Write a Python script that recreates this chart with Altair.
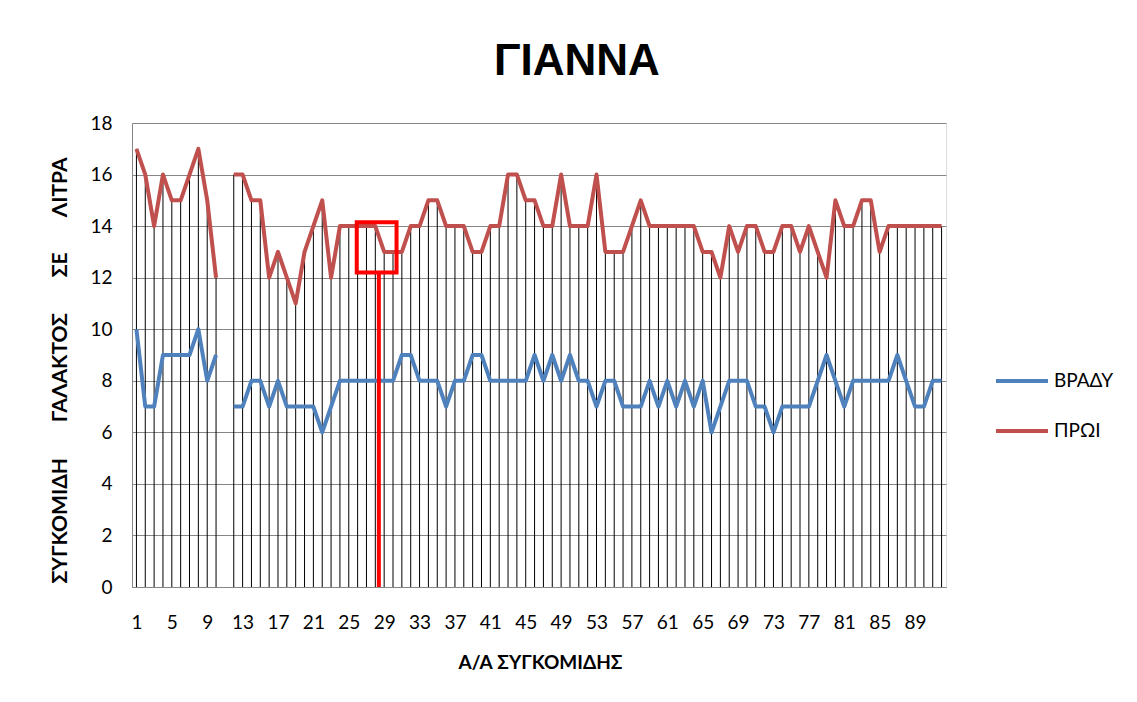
import altair as alt
import pandas as pd

# ---- data ----
categories = list(range(1, 93))
proi = [17, 16, 14, 16, 15, 15, 16, 17, 15, 12,
        None, 16, 16, 15, 15, 12, 13, 12, 11, 13,
        14, 15, 12, 14, 14, 14, 14, 14, 13, 13,
        13, 14, 14, 15, 15, 14, 14, 14, 13, 13,
        14, 14, 16, 16, 15, 15, 14, 14, 16, 14,
        14, 14, 16, 13, 13, 13, 14, 15, 14, 14,
        14, 14, 14, 14, 13, 13, 12, 14, 13, 14,
        14, 13, 13, 14, 14, 13, 14, 13, 12, 15,
        14, 14, 15, 15, 13, 14, 14, 14, 14, 14,
        14, 14]
vrady = [10, 7, 7, 9, 9, 9, 9, 10, 8, 9,
         None, 7, 7, 8, 8, 7, 8, 7, 7, 7,
         7, 6, 7, 8, 8, 8, 8, 8, 8, 8,
         9, 9, 8, 8, 8, 7, 8, 8, 9, 9,
         8, 8, 8, 8, 8, 9, 8, 9, 8, 9,
         8, 8, 7, 8, 8, 7, 7, 7, 8, 7,
         8, 7, 8, 7, 8, 6, 7, 8, 8, 8,
         7, 7, 6, 7, 7, 7, 7, 8, 9, 8,
         7, 8, 8, 8, 8, 8, 9, 8, 7, 7,
         8, 8]
series_names = ["ΒΡΑΔΥ", "ΠΡΩΙ"]
series_colors = ["#4F81BD", "#C0504D"]
x_tick_values = list(range(1, 90, 4))
y_tick_values = list(range(0, 19, 2))

# hand-drawn red annotation (data units)
box_x = [25.9, 30.4]
box_y = [12.2, 14.15]
marker_x = [28.4]

# ---- tables ----
rows = []
for c, p, v in zip(categories, proi, vrady):
    seg = 1 if c < 11 else 2
    if v is not None:
        rows.append({"cat": c, "value": v, "series": series_names[0], "seg": seg})
    if p is not None:
        rows.append({"cat": c, "value": p, "series": series_names[1], "seg": seg})
lines_df = pd.DataFrame(rows)
drop_df = pd.DataFrame({"cat": categories, "top": proi}).dropna()
box_df = pd.DataFrame({"x": [box_x[0]], "x2": [box_x[1]], "y": [box_y[0]], "y2": [box_y[1]]})
marker_df = pd.DataFrame({"x": marker_x, "y": [box_y[0]]})

font = "Lato"
gap = "\u00a0" * 6 + " "
y_title = gap.join(["ΣΥΓΚΟΜΙΔΗ", "ΓΑΛΑΚΤΟΣ", "ΣΕ", "ΛΙΤΡΑ"])

x_scale = alt.Scale(domain=[0.5, 92.5], nice=False, zero=False)
y_scale = alt.Scale(domain=[0, 18], nice=False)

x_axis = alt.Axis(values=x_tick_values, title="Α/Α ΣΥΓΚΟΜΙΔΗΣ", grid=False,
                  ticks=False, labelFontSize=19, labelPadding=26, labelFont=font,
                  labelColor="#000", domainColor="#868686", labelFlush=False,
                  labelOverlap=False, labelSeparation=0, labelBound=False,
                  titleFont=font, titleFontSize=19, titleFontWeight="bold",
                  titleColor="#000", titleX=408, titleY=75,
                  titleAlign="center", titleBaseline="middle")
y_axis = alt.Axis(values=y_tick_values, title=y_title,
                  grid=True, gridColor="#868686", gridWidth=1, ticks=False,
                  labelFontSize=19, labelPadding=20, labelFont=font, labelColor="#000",
                  domainColor="#868686", labelOverlap=False,
                  titleFont=font, titleFontSize=21, titleFontWeight="bold",
                  titleColor="#000", titleX=-72, titleY=247, titleAngle=270,
                  titleAlign="center", titleBaseline="middle")

drops = alt.Chart(drop_df).mark_rule(color="#000", strokeWidth=1).encode(
    x=alt.X("cat:Q", scale=x_scale, axis=x_axis),
    y=alt.Y("top:Q", scale=y_scale, axis=y_axis),
    y2=alt.datum(0),
)

lines = alt.Chart(lines_df).mark_line(strokeWidth=4, strokeJoin="round").encode(
    x=alt.X("cat:Q", scale=x_scale, axis=x_axis),
    y=alt.Y("value:Q", scale=y_scale, axis=y_axis),
    color=alt.Color("series:N",
                    scale=alt.Scale(domain=series_names, range=series_colors),
                    legend=alt.Legend(title=None, orient="none", legendX=862, legendY=230,
                                      symbolType="stroke", symbolSize=2704,
                                      symbolStrokeWidth=4, labelFont=font,
                                      labelFontSize=19, labelColor="#000",
                                      rowPadding=12, labelOffset=4)),
    detail="seg:N",
)

box = alt.Chart(box_df).mark_rect(filled=False, stroke="#FF0000", strokeWidth=4).encode(
    x=alt.X("x:Q", scale=x_scale, axis=x_axis), x2="x2:Q",
    y=alt.Y("y:Q", scale=y_scale, axis=y_axis), y2="y2:Q",
)
marker = alt.Chart(marker_df).mark_rule(color="#FF0000", strokeWidth=4).encode(
    x=alt.X("x:Q", scale=x_scale, axis=x_axis),
    y=alt.Y("y:Q", scale=y_scale, axis=y_axis),
    y2=alt.datum(0),
)

chart = alt.layer(drops, lines, box, marker).properties(
    width=814, height=464,
    title=alt.TitleParams("ΓΙΑΝΝΑ", font="Liberation Sans Narrow, Arial Narrow, Liberation Sans",
                          fontSize=44, fontWeight="bold", color="#000",
                          anchor="middle", frame="group", dx=38, offset=30),
    autosize=alt.AutoSizeParams(type="none"),
    padding={"left": 124, "top": 115, "right": 180, "bottom": 100},
).configure_view(stroke=None).configure_axisX(labelOverlap=False).configure(background="white")

chart.save("out.html", embed_options={"renderer": "svg", "actions": False})
